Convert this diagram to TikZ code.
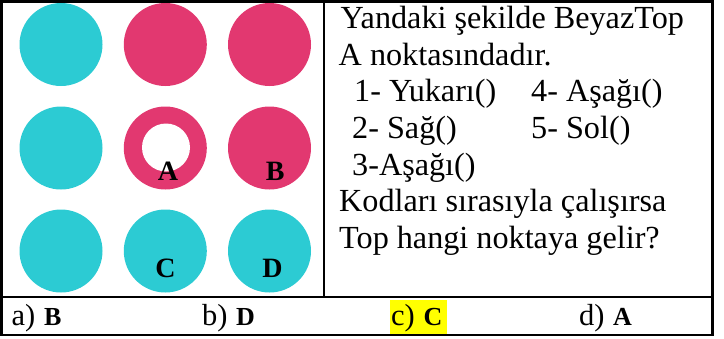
\documentclass[tikz,border=0pt]{standalone}
\usepackage{fontspec}
\setmainfont{Liberation Serif}
\definecolor{ballcyan}{RGB}{44,203,211}
\definecolor{ballpink}{RGB}{226,56,112}
\definecolor{hilite}{RGB}{255,255,0}
\newcommand{\anslet}[1]{\hspace{1pt}{\fontsize{26}{26}\selectfont\bfseries #1}}
\tikzset{
  ball/.style={circle, minimum size=83pt, inner sep=0pt, draw=none},
  cyanball/.style={ball, fill=ballcyan},
  pinkball/.style={ball, fill=ballpink},
  hole/.style={circle, minimum size=48pt, inner sep=0pt, fill=white},
  lbl/.style={anchor=base, inner sep=0pt, font=\fontsize{28}{28}\selectfont\bfseries},
  txt/.style={anchor=base west, inner sep=0pt, font=\fontsize{32.2}{38}\selectfont},
  ans/.style={anchor=base west, inner sep=0pt, font=\fontsize{30.5}{36}\selectfont},
  frame/.style={line width=2.6pt, black}
}
\begin{document}
\begin{tikzpicture}[x=1pt, y=-1pt]
\useasboundingbox (0,0) rectangle (724,338);
% highlight behind answer c
\fill[hilite] (390,299.5) rectangle (447,333.5);
% balls
\node[cyanball] (b11) at (61,44.5) {};
\node[pinkball] (b12) at (165.3,44.5) {};
\node[pinkball] (b13) at (269.5,44.5) {};
\node[cyanball] (b21) at (61,148) {};
\node[pinkball] (b22) at (165.3,148) {};
\node[hole] (h22) at (166,147.5) {};
\node[pinkball] (b23) at (269.5,148) {};
\node[cyanball] (b31) at (61,251) {};
\node[cyanball] (b32) at (165.3,251) {};
\node[cyanball] (b33) at (269.5,251) {};
% letters
\node[lbl] (la) at (168,180) {A};
\node[lbl] (lb) at (275.3,180) {B};
\node[lbl] (lc) at (165.5,277) {C};
\node[lbl] (ld) at (272.5,277) {D};
% frame
\draw[frame] (1.3,1.3) rectangle (712.5,335);
\draw[frame] (1.3,297) -- (712.5,297);
\draw[frame] (324,1.3) -- (324,297);
% question text
\node[txt] (t1) at (340.5,28.5) {Yandaki şekilde BeyazTop};
\node[txt] (t2) at (338.5,65) {A noktasındadır.};
\node[txt] (t3a) at (354,101.7) {1- Yukarı()};
\node[txt] (t3b) at (531,101.7) {4- Aşağı()};
\node[txt] (t4a) at (352,138.3) {2- Sağ()};
\node[txt] (t4b) at (531,138.3) {5- Sol()};
\node[txt] (t5) at (352,175) {3-Aşağı()};
\node[txt] (t6) at (339,211.7) {Kodları sırasıyla çalışırsa};
\node[txt] (t7) at (339,248) {Top hangi noktaya gelir?};
% answers
\node[ans] (aa) at (11.5,325.3) {a) \anslet{B}};
\node[ans] (ab) at (202,325.3) {b) \anslet{D}};
\node[ans] (ac) at (391,325.3) {c) \anslet{C}};
\node[ans] (ad) at (579,325.3) {d) \anslet{A}};
\end{tikzpicture}
\end{document}
